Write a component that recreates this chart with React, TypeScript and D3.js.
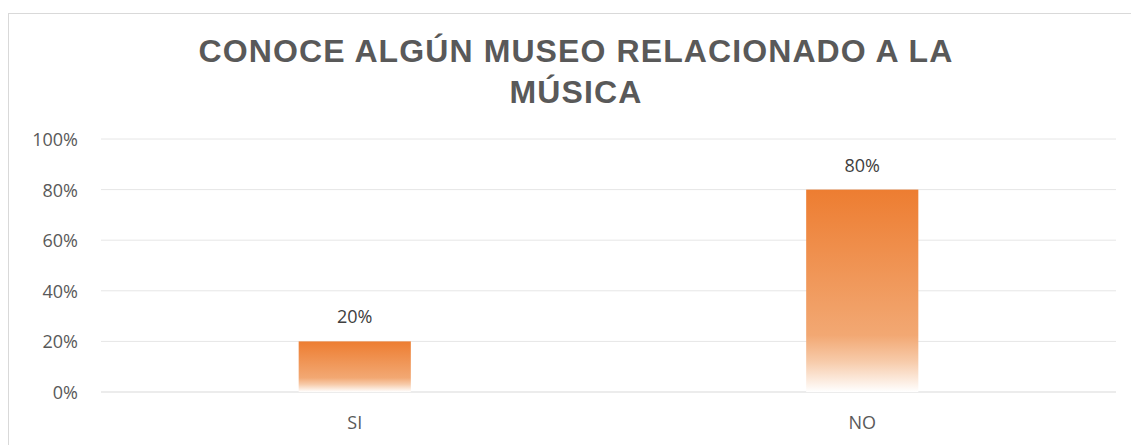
import React from "react";
import * as d3 from "d3";

const categories = ["SI", "NO"];
const values = [0.2, 0.8];
const yTicks = [0, 0.2, 0.4, 0.6, 0.8, 1.0];
const titleLines = ["CONOCE ALGÚN MUSEO RELACIONADO A LA", "MÚSICA"];

export default function App() {
  const W = 1131, H = 445;
  const left = 101, right = 1116, top = 139, bottom = 392;
  const x = d3.scaleBand<string>().domain(categories).range([left, right]).paddingInner(0).paddingOuter(0);
  const y = d3.scaleLinear().domain([0, 1]).range([bottom, top]);
  const barW = x.bandwidth() * 0.221;
  const fmt = d3.format(".0%");
  const lblFont = "'Open Sans', 'Liberation Sans', sans-serif";
  return (
    <svg width={W} height={H} style={{ position: "absolute", left: 0, top: 0, fontFamily: "'Liberation Sans', Arial, sans-serif" }}>
      <defs>
        <linearGradient id="barGrad" x1="0" y1="0" x2="0" y2="1">
          <stop offset="0" stopColor="#ED7D31" />
          <stop offset="0.72" stopColor="#F2A873" />
          <stop offset="0.85" stopColor="#F7CBAA" />
          <stop offset="1" stopColor="#FFFFFF" />
        </linearGradient>
      </defs>
      <rect x={0} y={0} width={W} height={H} fill="#fff" />
      <rect x={8.5} y={13.5} width={1140} height={450} fill="none" stroke="#D9D9D9" strokeWidth={1} />
      {titleLines.map((t, i) => (
        <text key={i} x={576} y={62 + i * 41} textAnchor="middle" fontSize={32} fontWeight="bold" fill="#595959" letterSpacing={1.1}>{t}</text>
      ))}
      {yTicks.map((t) => (
        <g key={t}>
          <line x1={left} x2={right} y1={y(t)} y2={y(t)} stroke={t === 0 ? "#D9D9D9" : "#E6E6E6"} strokeWidth={1} />
          <text x={78} y={y(t) + 7} textAnchor="end" fontSize={18} fill="#595959" fontFamily={lblFont}>{fmt(t)}</text>
        </g>
      ))}
      {categories.map((c, i) => {
        const cx = (x(c) as number) + x.bandwidth() / 2;
        return (
          <g key={c}>
            <rect x={cx - barW / 2} y={y(values[i])} width={barW} height={bottom - y(values[i])} fill="url(#barGrad)" />
            <text x={cx} y={y(values[i]) - 18} textAnchor="middle" fontSize={18} fill="#404040" fontFamily={lblFont}>{fmt(values[i])}</text>
            <text x={cx} y={429} textAnchor="middle" fontSize={18} fill="#595959" fontFamily={lblFont}>{c}</text>
          </g>
        );
      })}
    </svg>
  );
}
